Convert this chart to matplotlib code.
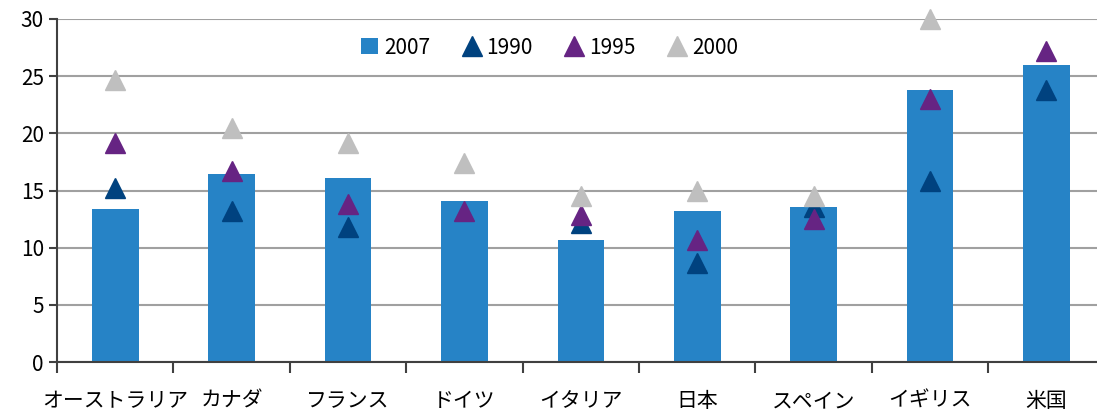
import matplotlib.pyplot as plt
import numpy as np

plt.rcParams['font.family'] = ['Noto Sans CJK JP', 'DejaVu Sans']

countries = ['オーストラリア', 'カナダ', 'フランス', 'ドイツ', 'イタリア',
             '日本', 'スペイン', 'イギリス', '米国']
v2007 = [13.4, 16.45, 16.1, 14.1, 10.7, 13.2, 13.6, 23.8, 26.0]
v1990 = [15.2, 13.2, 11.8, np.nan, 12.2, 8.7, 13.6, 15.8, 23.8]
v1995 = [19.2, 16.7, 13.8, 13.2, 12.9, 10.7, 12.5, 23.0, 27.2]
v2000 = [24.7, 20.5, 19.2, 17.4, 14.5, 15.0, 14.5, 30.0, np.nan]

fig = plt.figure(figsize=(10.97, 4.12), dpi=100)
ax = fig.add_axes([0.052, 0.121, 0.955, 0.833])

x = np.arange(len(countries))
bars = ax.bar(x, v2007, width=0.4, color='#2683C6', label='2007', zorder=2)
l90, = ax.plot(x, v1990, linestyle='none', marker='^', markersize=14, color='#00427F', label='1990', zorder=3)
l95, = ax.plot(x, v1995, linestyle='none', marker='^', markersize=14, color='#662483', label='1995', zorder=3)
l00, = ax.plot(x, v2000, linestyle='none', marker='^', markersize=14, color='#BFBFBF', label='2000', zorder=3, clip_on=False)

ax.set_xlim(-0.5, len(countries) - 0.5)
ax.set_ylim(0, 30)
ax.set_yticks(range(0, 31, 5))
ax.yaxis.grid(True, color='#A0A0A0', linewidth=1.5, zorder=0)
ax.set_axisbelow(True)

ax.set_xticks(x)
ax.set_xticklabels(countries, fontsize=15)
ax.set_xticks(np.arange(-0.5, len(countries), 1), minor=True)
ax.tick_params(axis='x', which='major', length=0, pad=20)
ax.tick_params(axis='x', which='minor', length=8, width=1.5, color='#404040')
ax.tick_params(axis='y', length=6, width=1.5, color='#404040', labelsize=15)

for s in ['top', 'right']:
    ax.spines[s].set_visible(False)
for s in ['left', 'bottom']:
    ax.spines[s].set_color('#404040')
    ax.spines[s].set_linewidth(1.5)

ax.legend([bars, l90, l95, l00], ['2007', '1990', '1995', '2000'],
          loc='upper center', bbox_to_anchor=(0.47, 0.985), ncol=4, frameon=False,
          fontsize=15, handlelength=0.8, handleheight=0.8, handletextpad=0.3,
          columnspacing=1.6, borderaxespad=0.2)

fig.savefig('out.png')
